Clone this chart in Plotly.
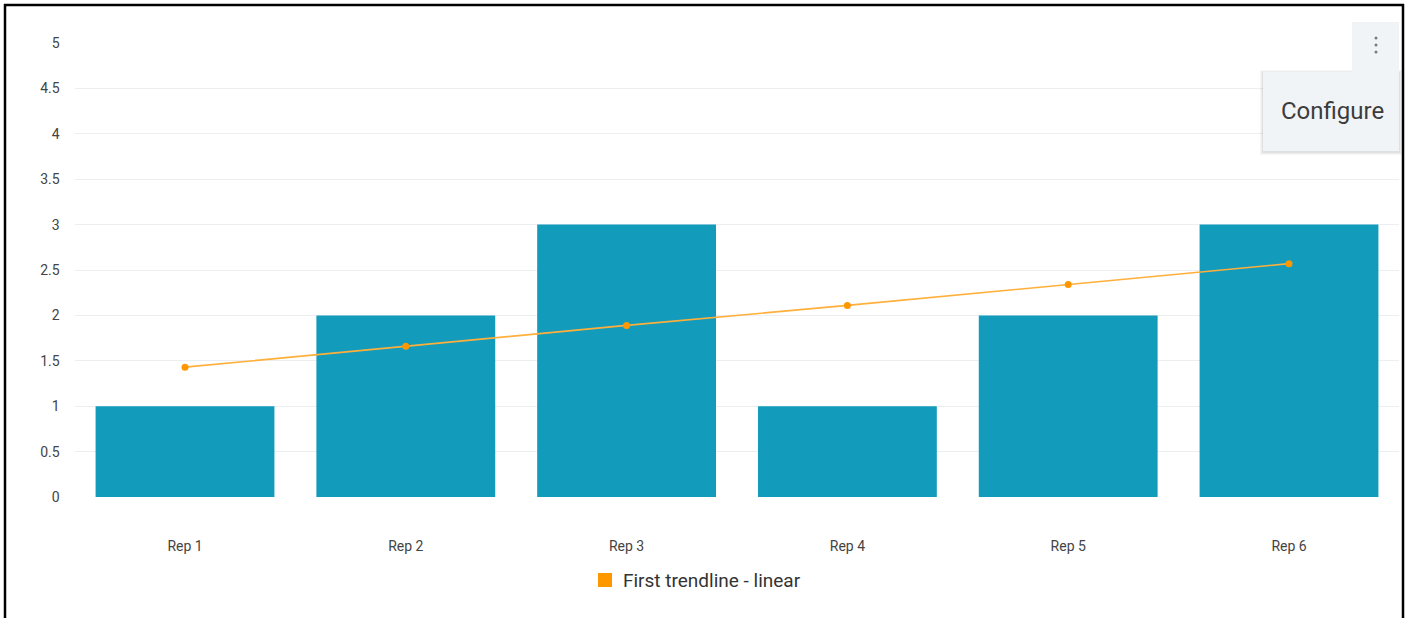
import plotly.graph_objects as go

W, H = 1408, 618

reps = ["Rep 1", "Rep 2", "Rep 3", "Rep 4", "Rep 5", "Rep 6"]
counts = [1, 2, 3, 1, 2, 3]
trend_values = [1.43, 1.66, 1.89, 2.11, 2.34, 2.57]
trend_name = "First trendline - linear"
y_ticks = [0, 0.5, 1, 1.5, 2, 2.5, 3, 3.5, 4, 4.5, 5]
y_tick_text = ["0", "0.5", "1", "1.5", "2", "2.5", "3", "3.5", "4", "4.5", "5"]

BAR = "#139BBB"
ORANGE = "#FF9800"
TREND_LINE = "#FFAF3A"


def px_x(p):
    return p / W


def px_y(p):
    return 1 - p / H


fig = go.Figure()

fig.add_trace(go.Bar(
    x=reps, y=counts, marker=dict(color=BAR, line=dict(width=0)),
    showlegend=False, hoverinfo="x+y",
))

fig.add_trace(go.Scatter(
    x=reps, y=trend_values, mode="lines+markers", name=trend_name,
    line=dict(color=TREND_LINE, width=1.6),
    marker=dict(color=ORANGE, size=7),
    showlegend=False,
))

shapes = [
    # outer frame
    dict(type="line", xref="paper", yref="paper", x0=px_x(5), x1=px_x(5), y0=px_y(4), y1=0,
         line=dict(color="black", width=2.5)),
    dict(type="line", xref="paper", yref="paper", x0=px_x(4), x1=px_x(1404), y0=px_y(5), y1=px_y(5),
         line=dict(color="black", width=2.5)),
    dict(type="line", xref="paper", yref="paper", x0=px_x(1403), x1=px_x(1403), y0=px_y(4), y1=0,
         line=dict(color="black", width=2.5)),
    # legend swatch
    dict(type="rect", xref="paper", yref="paper", x0=px_x(598), x1=px_x(612), y0=px_y(573), y1=px_y(587),
         fillcolor=ORANGE, line=dict(width=0)),
]

# menu button and popup with a soft shadow
for i, a in enumerate([0.03, 0.04, 0.05]):
    d = 3 - i
    shapes.append(dict(type="rect", xref="paper", yref="paper", layer="above",
                       x0=px_x(1263 - d), x1=px_x(1399 + d), y0=px_y(72 - d + 1), y1=px_y(151 + d + 1),
                       fillcolor=f"rgba(0,0,0,{a})", line=dict(width=0)))
shapes.append(dict(type="rect", xref="paper", yref="paper", layer="above",
                   x0=px_x(1352), x1=px_x(1399), y0=px_y(22), y1=px_y(72),
                   fillcolor="#F1F4F7", line=dict(width=0)))
shapes.append(dict(type="rect", xref="paper", yref="paper", layer="above",
                   x0=px_x(1263), x1=px_x(1399), y0=px_y(72), y1=px_y(151),
                   fillcolor="#F1F4F7", line=dict(width=0)))
for cy in (38, 45, 52):
    shapes.append(dict(type="circle", xref="paper", yref="paper", layer="above",
                       x0=px_x(1374.5), x1=px_x(1377.5), y0=px_y(cy - 1.5), y1=px_y(cy + 1.5),
                       fillcolor="#7A7A7A", line=dict(width=0)))

annotations = [
    dict(text="Configure", xref="paper", yref="paper", x=px_x(1332), y=px_y(111),
         xanchor="center", yanchor="middle", showarrow=False,
         font=dict(family="Roboto", size=24, color="#3C3C3C")),
    dict(text=trend_name, xref="paper", yref="paper", x=px_x(621), y=px_y(580),
         xanchor="left", yanchor="middle", showarrow=False,
         font=dict(family="Roboto", size=19, color="#333")),
]

fig.update_layout(
    width=W, height=H,
    margin=dict(l=0, r=0, t=0, b=0, autoexpand=False),
    paper_bgcolor="white", plot_bgcolor="white",
    font=dict(family="Roboto", color="#444"),
    bargap=0.19,
    showlegend=False,
    shapes=shapes,
    annotations=annotations,
    xaxis=dict(
        domain=[px_x(74.6), px_x(1399.4)],
        automargin=False,
        showgrid=False, zeroline=False, showline=False,
        ticks="", ticklabelstandoff=39,
        tickfont=dict(size=14, color="#444"),
        fixedrange=True,
    ),
    yaxis=dict(
        domain=[px_y(497), px_y(43)],
        automargin=False,
        range=[0, 5],
        tickvals=y_ticks, ticktext=y_tick_text,
        showgrid=True, gridcolor="#ECEFF1", gridwidth=1,
        zeroline=False, showline=False, ticks="",
        ticklabelstandoff=14,
        tickfont=dict(size=14, color="#444"),
        fixedrange=True,
    ),
)

fig.write_html("out.html")
